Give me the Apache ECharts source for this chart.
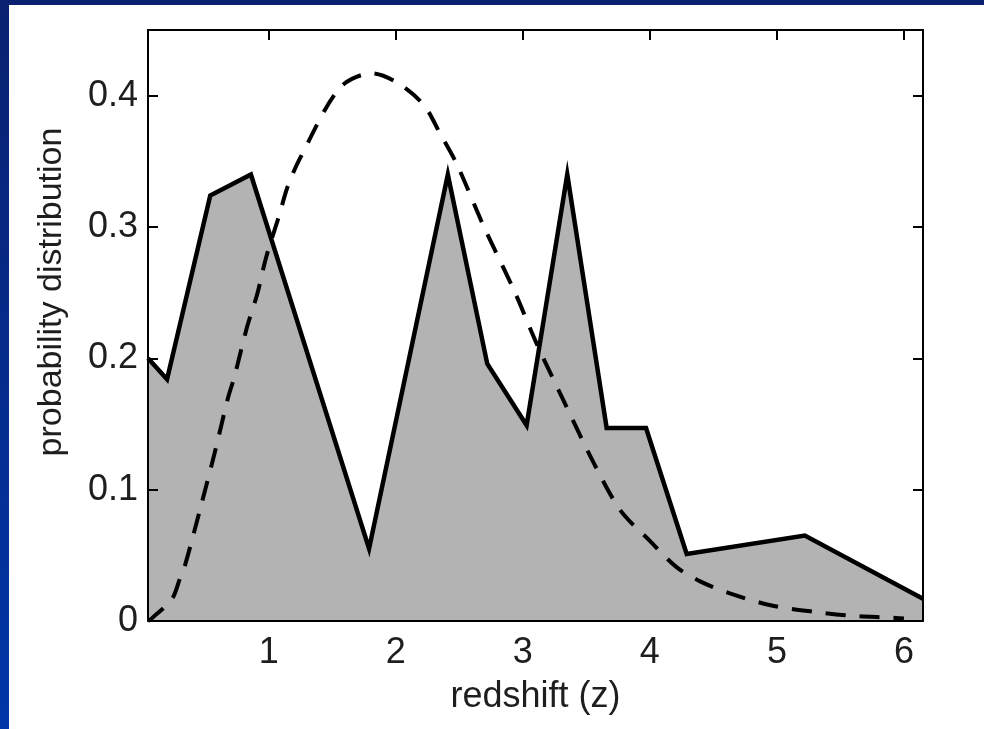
<!DOCTYPE html>
<html>
<head>
<meta charset="utf-8">
<script src="https://cdn.jsdelivr.net/npm/echarts@6/dist/echarts.min.js"></script>
<style>
  html, body { margin: 0; padding: 0; width: 984px; height: 729px; overflow: hidden;
    background: linear-gradient(to bottom, #0a2170, #0036a8); }
  #chart { position: absolute; left: 0; top: 0; width: 984px; height: 729px; }
</style>
</head>
<body>
<div id="chart"></div>
<script>
// Binned redshift distribution (solid, filled)
const binZ = [0.05, 0.2, 0.54, 0.86, 1.79, 2.41, 2.72, 3.03, 3.35, 3.66, 3.97, 4.29, 5.22, 6.15];
const binProb = [0.2, 0.184, 0.324, 0.34, 0.055, 0.34, 0.196, 0.149, 0.34, 0.147, 0.147, 0.051, 0.065, 0.017];

// Model redshift distribution (dashed)
const modelZ = [0.05, 0.08, 0.24, 0.3, 0.34, 0.46, 0.58, 0.68, 0.73, 0.83, 0.91, 0.98, 1.08, 1.15, 1.25,
  1.56, 1.81, 2.01, 2.22, 2.35, 2.48, 2.69, 2.93, 3.11, 3.32, 3.56, 3.77, 4.0, 4.21, 4.4, 4.63, 4.95,
  5.29, 5.58, 5.89, 6.0];
const modelProb = [0, 0.002, 0.017, 0.032, 0.042, 0.085, 0.13, 0.17, 0.186, 0.224, 0.249, 0.277, 0.308,
  0.331, 0.353, 0.406, 0.417, 0.41, 0.393, 0.371, 0.348, 0.301, 0.252, 0.211, 0.168, 0.12, 0.084, 0.061,
  0.041, 0.03, 0.021, 0.012, 0.007, 0.004, 0.0026, 0.002];

const xTicks = [1, 2, 3, 4, 5, 6];
const yTicks = [0, 0.1, 0.2, 0.3, 0.4];

const FONT = '"Liberation Sans", Arial, Helvetica, sans-serif';
const INK = '#1e1e1e';
const frameLine = { show: true, onZero: false, lineStyle: { color: '#000', width: 2 } };
const innerTick = { show: true, inside: true, length: 10, lineStyle: { color: '#000', width: 2 } };

const chart = echarts.init(document.getElementById('chart'), null, { renderer: 'canvas' });

chart.setOption({
  animation: false,
  backgroundColor: 'transparent',
  graphic: [
    { type: 'rect', left: 9, top: 5, shape: { width: 975, height: 724 }, style: { fill: '#fff' }, z: -10 },
    { type: 'text', x: 52, y: 292, rotation: Math.PI / 2,
      style: { text: 'probability distribution', font: '34px ' + FONT, fill: INK,
               textAlign: 'center', textVerticalAlign: 'middle' } }
  ],
  grid: { left: 148, top: 30, right: 61, bottom: 108, containLabel: false },
  xAxis: [
    {
      type: 'value', position: 'bottom', min: 0.05, max: 6.15, z: 10,
      axisLine: frameLine, axisTick: { show: false }, splitLine: { show: false },
      axisLabel: { customValues: xTicks, fontSize: 36, fontFamily: FONT, color: INK, margin: 14,
                   formatter: v => String(v) },
      name: 'redshift (z)', nameLocation: 'middle', nameGap: 58,
      nameTextStyle: { fontSize: 36, fontFamily: FONT, color: INK }
    },
    {
      type: 'value', position: 'top', min: 0.05, max: 6.15, z: 10,
      axisLine: frameLine, axisTick: Object.assign({ customValues: xTicks }, innerTick),
      axisLabel: { show: false }, splitLine: { show: false }
    }
  ],
  yAxis: [
    {
      type: 'value', position: 'left', min: 0, max: 0.45, z: 10,
      axisLine: frameLine, axisTick: Object.assign({ customValues: yTicks }, innerTick),
      splitLine: { show: false },
      axisLabel: { customValues: yTicks, fontSize: 36, fontFamily: FONT, color: INK, margin: 10,
                   formatter: v => (v === 0 ? '0' : v.toFixed(1)) }
    },
    {
      type: 'value', position: 'right', min: 0, max: 0.45, z: 10,
      axisLine: frameLine, axisTick: Object.assign({ customValues: yTicks }, innerTick),
      axisLabel: { show: false }, splitLine: { show: false }
    }
  ],
  series: [
    {
      type: 'line', xAxisIndex: 0, yAxisIndex: 0,
      data: binZ.map((z, i) => [z, binProb[i]]),
      showSymbol: false, symbol: 'none',
      lineStyle: { color: '#000', width: 4.5, join: 'miter' },
      areaStyle: { color: '#b3b3b3', opacity: 1, origin: 'start' },
      z: 3
    },
    {
      type: 'line', xAxisIndex: 0, yAxisIndex: 0,
      data: modelZ.map((z, i) => [z, modelProb[i]]),
      showSymbol: false, symbol: 'none', smooth: 0.3,
      lineStyle: { color: '#000', width: 4, type: [20, 14] },
      z: 4
    }
  ]
});
</script>
</body>
</html>
